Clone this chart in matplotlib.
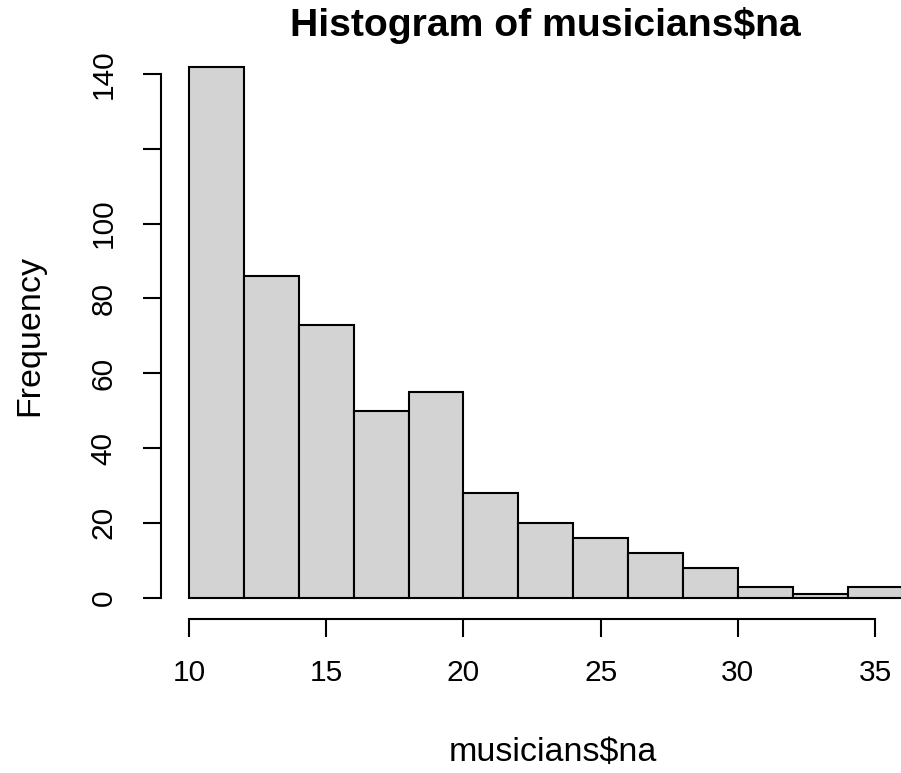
import matplotlib.pyplot as plt

# histogram bins (width 2) and counts
breaks = [10, 12, 14, 16, 18, 20, 22, 24, 26, 28, 30, 32, 34, 36]
counts = [142, 86, 73, 50, 55, 28, 20, 16, 12, 8, 3, 1, 3]
xticks = [10, 15, 20, 25, 30, 35]
yticks = [0, 20, 40, 60, 80, 100, 120, 140]
ylabels = ["0", "20", "40", "60", "80", "100", "", "140"]

plt.rcParams['font.family'] = ['Liberation Sans', 'DejaVu Sans']

W, H = 901, 773
fig = plt.figure(figsize=(W / 100, H / 100), dpi=100)

# plot region in pixels (R-style 4% padding on both axes)
left, right, top, bottom = 160.5, 931, 45.3, 619
ax = fig.add_axes([left / W, 1 - bottom / H, (right - left) / W, (bottom - top) / H])

lefts = breaks[:-1]
widths = [b - a for a, b in zip(breaks[:-1], breaks[1:])]
ax.bar(lefts, counts, width=widths, align='edge', color='#d3d3d3',
       edgecolor='black', linewidth=1.5, clip_on=False)

ax.set_xlim(10 - 0.04 * 26, 36 + 0.04 * 26)
ax.set_ylim(-0.04 * 142, 142 * 1.04)

for s in ['top', 'right']:
    ax.spines[s].set_visible(False)
ax.spines['left'].set_bounds(0, 140)
ax.spines['bottom'].set_bounds(10, 35)
for s in ['left', 'bottom']:
    ax.spines[s].set_linewidth(1.5)

ax.set_xticks(xticks)
ax.set_yticks(yticks)
ax.set_yticklabels(ylabels, rotation=90, va='center')
ax.tick_params(length=13, width=1.5, labelsize=21.5)
ax.tick_params(axis='x', pad=16)
ax.tick_params(axis='y', pad=18)

fig.text(545 / W, 1 - 26 / H, "Histogram of musicians$na",
         ha='center', va='center', fontsize=28.2, fontweight='bold')
fig.text(553 / W, 1 - 752 / H, "musicians$na", ha='center', va='center', fontsize=24.5)
fig.text(30 / W, 1 - 335 / H, "Frequency", ha='center', va='center', fontsize=24.5, rotation=90)

fig.savefig("out.png", dpi=100)
